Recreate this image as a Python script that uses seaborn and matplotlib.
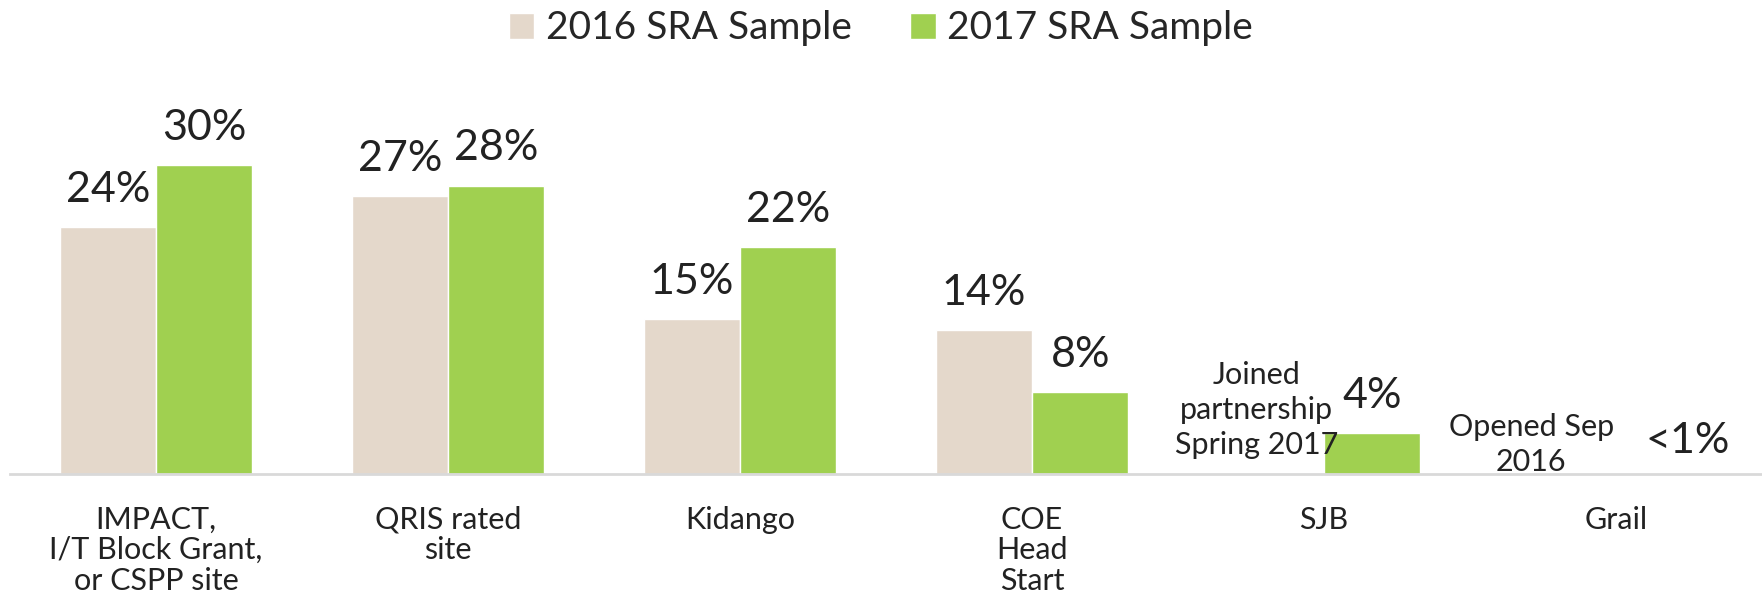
import pandas as pd
import numpy as np
import matplotlib.pyplot as plt
import seaborn as sns

# data
sites = ["IMPACT,\nI/T Block Grant,\nor CSPP site", "QRIS rated\nsite", "Kidango",
         "COE\nHead\nStart", "SJB", "Grail"]
share_2016 = [24, 27, 15, 14, np.nan, np.nan]
share_2017 = [30, 28, 22, 8, 4, 0]
labels_2016 = ["24%", "27%", "15%", "14%"]
labels_2017 = ["30%", "28%", "22%", "8%", "4%", "<1%"]
series = ["2016 SRA Sample", "2017 SRA Sample"]

df = pd.DataFrame({
    "site": sites * 2,
    "share": share_2016 + share_2017,
    "sample": [series[0]] * len(sites) + [series[1]] * len(sites),
})

sns.set_style("white")
plt.rcParams["font.family"] = ["Lato", "DejaVu Sans"]

fig = plt.figure(figsize=(17.62, 6.01), dpi=100)
ax = fig.add_axes([0.0057, 0.2113, 0.9943, 0.6857])

sns.barplot(data=df, x="site", y="share", hue="sample", order=sites,
            palette=["#E4D8CB", "#A0D050"], width=0.66, saturation=1,
            ax=ax, legend=True)

# value labels above bars
ax.bar_label(ax.containers[0], labels=labels_2016, padding=13, fontsize=31, color="#222222")
lab17 = ax.bar_label(ax.containers[1], labels=labels_2017, padding=13, fontsize=31, color="#222222")
lab17[-1].xyann = (17, 10)  # "<1%" sits a bit to the right in the original

# notes for sites that were not in the 2016 sample
ax.text(3.77, 6.2, "Joined\npartnership\nSpring 2017", ha="center", va="center",
        fontsize=22, color="#222222", linespacing=1.3)
ax.text(4.71, 2.9, "Opened Sep\n2016", ha="center", va="center",
        fontsize=22, color="#222222", linespacing=1.3)

ax.set_ylim(0, 40)
ax.set_xlim(-0.5, 5.5)
ax.set_xlabel("")
ax.set_ylabel("")
ax.set_yticks([])
ax.tick_params(axis="x", length=0, pad=23, labelsize=22, labelcolor="#222222")
for lbl in ax.get_xticklabels():
    lbl.set_linespacing(1.1)
for s in ["top", "right", "left"]:
    ax.spines[s].set_visible(False)
ax.spines["bottom"].set_color("#D9D9D9")
ax.spines["bottom"].set_linewidth(2)

ax.legend(loc="center", bbox_to_anchor=(0.5, 0.953), bbox_transform=fig.transFigure,
          ncol=2, frameon=False, fontsize=28, handlelength=0.65, handleheight=0.65,
          handletextpad=0.3, columnspacing=1.5)

fig.savefig("out.png", dpi=100)
